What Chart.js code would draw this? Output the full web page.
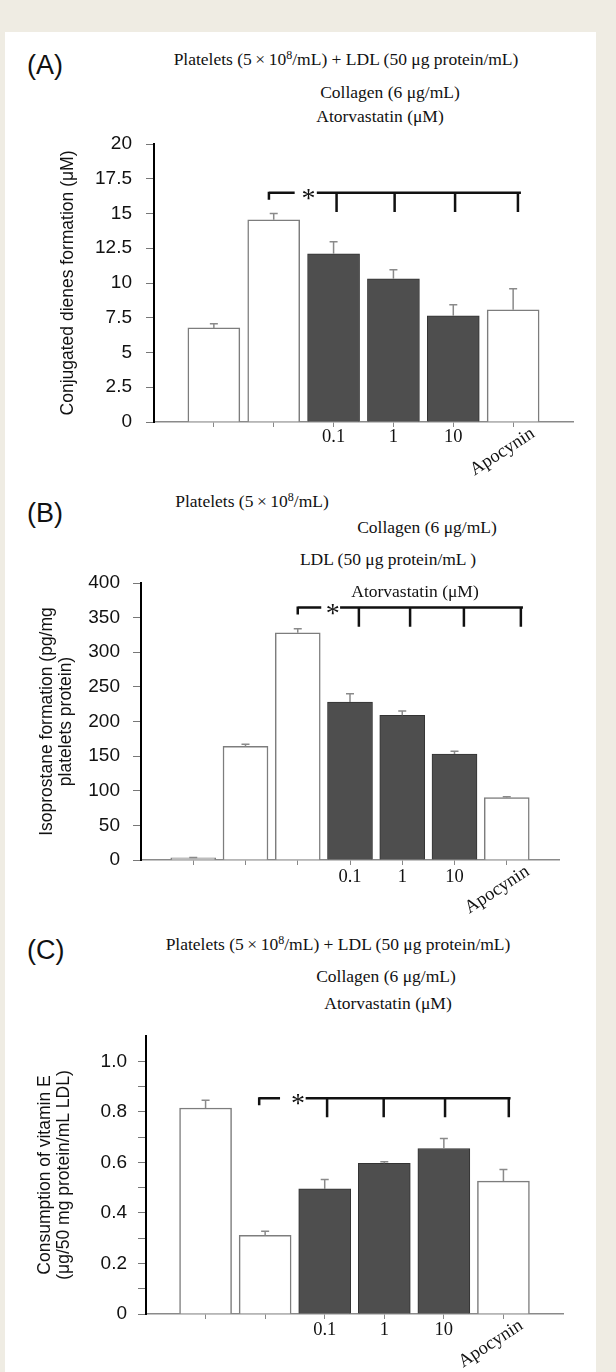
<!DOCTYPE html>
<html>
<head>
<meta charset="utf-8">
<script src="https://cdn.jsdelivr.net/npm/chart.js@4.4.1/dist/chart.umd.min.js"></script>
<style>
  html, body { margin: 0; padding: 0; }
  body { width: 616px; height: 1372px; overflow: hidden; background: #efece3; position: relative; }
  .card { position: absolute; left: 5px; top: 32px; width: 591px; height: 1360px; background: #fff; }
  canvas { position: absolute; left: 0; }
  .tag { position: absolute; left: 27px; font: 27px "Liberation Sans", Arial, sans-serif; line-height: 1; transform: translateY(-50%); color: #111; }
  .t { position: absolute; font: 17.5px "Liberation Serif", "Times New Roman", serif; line-height: 1; white-space: nowrap; transform: translate(-50%, -50%); color: #111; }
  .t sup { font-size: 12px; vertical-align: baseline; position: relative; top: -6px; }
</style>
</head>
<body>
<div class="card"></div>

<div class="tag" style="top:65px">(A)</div>
<div class="t" style="left:346px;top:60px">Platelets (5&thinsp;×&thinsp;10<sup>8</sup>/mL) + LDL (50 μg protein/mL)</div>
<div class="t" style="left:390px;top:93px">Collagen (6 μg/mL)</div>
<div class="t" style="left:380px;top:117px">Atorvastatin (μM)</div>

<div class="tag" style="top:513px">(B)</div>
<div class="t" style="left:252px;top:502px">Platelets (5&thinsp;×&thinsp;10<sup>8</sup>/mL)</div>
<div class="t" style="left:427px;top:528px">Collagen (6 μg/mL)</div>
<div class="t" style="left:388px;top:560px">LDL (50 μg protein/mL )</div>

<div class="tag" style="top:950px">(C)</div>
<div class="t" style="left:338px;top:945px">Platelets (5&thinsp;×&thinsp;10<sup>8</sup>/mL) + LDL (50 μg protein/mL)</div>
<div class="t" style="left:386px;top:977px">Collagen (6 μg/mL)</div>
<div class="t" style="left:388px;top:1004px">Atorvastatin (μM)</div>

<canvas id="chartA" width="616" height="368" style="top:114px"></canvas>
<canvas id="chartB" width="616" height="367" style="top:553px"></canvas>
<canvas id="chartC" width="616" height="366" style="top:1006px"></canvas>

<div class="t" style="left:415px;top:592px">Atorvastatin (μM)</div>

<script>
Chart.defaults.font.family = '"Liberation Sans", Arial, sans-serif';
Chart.defaults.color = '#111';

// (A) conjugated dienes
const catsA = ['', '', '0.1', '1', '10', 'Apocynin'];
const valsA = [6.77, 14.55, 12.1, 10.3, 7.64, 8.07];
const semA = [0.29, 0.45, 0.87, 0.65, 0.79, 1.51];
const yTicksA = [0, 2.5, 5, 7.5, 10, 12.5, 15, 17.5, 20];
const yLabelsA = ['0', '2.5', '5', '7.5', '10', '12.5', '15', '17.5', '20'];

// (B) isoprostanes
const catsB = ['', '', '', '0.1', '1', '10', 'Apocynin'];
const valsB = [3, 164, 328, 228, 209, 153, 90];
const semB = [0.5, 3, 6, 12, 6, 4, 1.5];
const yTicksB = [0, 50, 100, 150, 200, 250, 300, 350, 400];
const yLabelsB = ['0', '50', '100', '150', '200', '250', '300', '350', '400'];

// (C) vitamin E
const catsC = ['', '', '0.1', '1', '10', 'Apocynin'];
const valsC = [0.815, 0.311, 0.495, 0.596, 0.655, 0.526];
const semC = [0.031, 0.016, 0.037, 0.006, 0.039, 0.046];
const yTicksC = [0, 0.1, 0.2, 0.3, 0.4, 0.5, 0.6, 0.7, 0.8, 0.9, 1.0];
const yLabelsC = ['0', '', '0.2', '', '0.4', '', '0.6', '', '0.8', '', '1.0'];

// significance brackets (x in category units, y in data units)
const sigA = { level: 16.5, dropTo: 15.1, from: 1.92, dashEnd: 2.35, star: 2.58, lineStart: 2.72, to: 6.13, drops: [3.05, 4.02, 5.03, 6.08] };
const sigB = { level: 364.5, dropTo: 337, from: 3.0, dashEnd: 3.45, star: 3.67, lineStart: 3.81, to: 7.31, drops: [4.17, 5.15, 6.18, 7.27] };
const sigC = { level: 0.854, dropTo: 0.779, from: 1.9, dashEnd: 2.25, star: 2.55, lineStart: 2.68, to: 6.12, drops: [3.04, 3.99, 5.02, 6.09] };

const isDrug = l => l === '0.1' || l === '1' || l === '10';

function makePanel(id, cats, vals, sem, yTicks, yLabels, yMax, yTitle, sig, lay) {
    // one empty slot on each side so the bars sit on ticks 1..n
    const labels = ['', ...cats, ''];
    const data = [null, ...vals, null];
    const errs = [null, ...sem, null];
    const last = labels.length - 1;

    const errorBars = {
        id: 'errorBars',
        afterDatasetsDraw(chart) {
            const ctx = chart.ctx, y = chart.scales.y;
            const meta = chart.getDatasetMeta(0);
            ctx.save();
            ctx.strokeStyle = '#8a8a8a';
            ctx.lineWidth = 1.5;
            meta.data.forEach((bar, i) => {
                if (data[i] == null || !errs[i]) return;
                const y0 = y.getPixelForValue(data[i]);
                const y1 = y.getPixelForValue(data[i] + errs[i]);
                ctx.beginPath();
                ctx.moveTo(bar.x, y0);
                ctx.lineTo(bar.x, y1);
                ctx.moveTo(bar.x - 4, y1);
                ctx.lineTo(bar.x + 4, y1);
                ctx.stroke();
            });
            ctx.restore();
        }
    };

    const xLabels = {
        id: 'xLabels',
        afterDraw(chart) {
            const ctx = chart.ctx, x = chart.scales.x;
            const base = chart.chartArea.bottom;
            ctx.save();
            ctx.font = '18.5px "Liberation Serif", "Times New Roman", serif';
            ctx.fillStyle = '#111';
            labels.forEach((l, i) => {
                if (!l) return;
                const px = x.getPixelForValue(i);
                if (l.length > 3) {
                    ctx.save();
                    ctx.translate(px + lay.rotDx, base + 10);
                    ctx.rotate(-33 * Math.PI / 180);
                    ctx.textAlign = 'right';
                    ctx.textBaseline = 'middle';
                    ctx.fillText(l, 0, 0);
                    ctx.restore();
                } else {
                    ctx.textAlign = 'center';
                    ctx.textBaseline = 'middle';
                    ctx.fillText(l, px, base + lay.labDy);
                }
            });
            ctx.restore();
        }
    };

    const bracket = {
        id: 'bracket',
        afterDraw(chart) {
            const ctx = chart.ctx, x = chart.scales.x, y = chart.scales.y;
            const px = v => x.getPixelForValue(v);
            const yl = y.getPixelForValue(sig.level);
            const yd = y.getPixelForValue(sig.dropTo);
            ctx.save();
            ctx.strokeStyle = '#111';
            ctx.lineWidth = 2.5;
            ctx.beginPath();
            ctx.moveTo(px(sig.from), yl - 1);
            ctx.lineTo(px(sig.from), yl + 7);
            ctx.moveTo(px(sig.from), yl);
            ctx.lineTo(px(sig.dashEnd), yl);
            ctx.moveTo(px(sig.lineStart), yl);
            ctx.lineTo(px(sig.to), yl);
            sig.drops.forEach(d => {
                ctx.moveTo(px(d), yl);
                ctx.lineTo(px(d), yd);
            });
            ctx.stroke();
            ctx.fillStyle = '#111';
            ctx.font = '28px "Liberation Serif", "Times New Roman", serif';
            ctx.textAlign = 'center';
            ctx.textBaseline = 'alphabetic';
            ctx.fillText('*', px(sig.star), yl + 14);
            ctx.restore();
        }
    };

    return new Chart(document.getElementById(id), {
        type: 'bar',
        data: {
            labels: labels,
            datasets: [{
                data: data,
                backgroundColor: labels.map(l => isDrug(l) ? '#4e4e4e' : '#ffffff'),
                borderColor: labels.map(l => isDrug(l) ? '#333333' : '#7d7d7d'),
                borderWidth: labels.map(l => isDrug(l) ? 1 : 1.5),
                barThickness: lay.bar
            }]
        },
        options: {
            responsive: false,
            maintainAspectRatio: false,
            animation: false,
            devicePixelRatio: 1,
            layout: { padding: { top: 30, right: lay.padRight, left: 0, bottom: 0 } },
            plugins: {
                legend: { display: false },
                tooltip: { enabled: false }
            },
            scales: {
                x: {
                    offset: false,
                    grid: {
                        offset: false,
                        drawOnChartArea: false,
                        tickLength: 5,
                        color: c => (c.index === 0 || c.index === last) ? 'rgba(0,0,0,0)' : '#888'
                    },
                    border: { color: '#8a8a8a', width: 1.5 },
                    ticks: { display: false },
                    afterFit: s => { s.height = lay.xHeight; }
                },
                y: {
                    min: 0,
                    max: yMax,
                    afterBuildTicks: s => { s.ticks = yTicks.map(v => ({ value: v })); },
                    ticks: {
                        autoSkip: false,
                        padding: lay.tickPad,
                        font: { size: 19 },
                        color: '#111',
                        callback: (v, i) => yLabels[i]
                    },
                    grid: { drawOnChartArea: false, tickLength: 8, color: '#777' },
                    border: { color: '#000', width: 2 },
                    title: {
                        display: true,
                        text: yTitle,
                        color: '#111',
                        font: { size: 17.5, lineHeight: 1.12 },
                        padding: { top: lay.titlePad, bottom: 0 }
                    },
                    afterFit: s => { s.width = lay.yWidth; }
                }
            }
        },
        plugins: [errorBars, xLabels, bracket]
    });
}

makePanel('chartA', catsA, valsA, semA, yTicksA, yLabelsA, 20,
    'Conjugated dienes formation (μM)', sigA,
    { bar: 52, yWidth: 154, padRight: 43, xHeight: 60, tickPad: 14, titlePad: 58, labDy: 15, rotDx: 20 });

makePanel('chartB', catsB, valsB, semB, yTicksB, yLabelsB, 400,
    ['Isoprostane formation (pg/mg', 'platelets protein)'], sigB,
    { bar: 45, yWidth: 141, padRight: 57, xHeight: 60, tickPad: 13, titlePad: 37, labDy: 17, rotDx: 21 });

makePanel('chartC', catsC, valsC, semC, yTicksC, yLabelsC, 1.1,
    ['Consumption of vitamin E', '(μg/50 mg protein/mL LDL)'], sigC,
    { bar: 52, yWidth: 146, padRight: 53, xHeight: 58, tickPad: 11, titlePad: 35, labDy: 16, rotDx: 18 });
</script>
</body>
</html>
